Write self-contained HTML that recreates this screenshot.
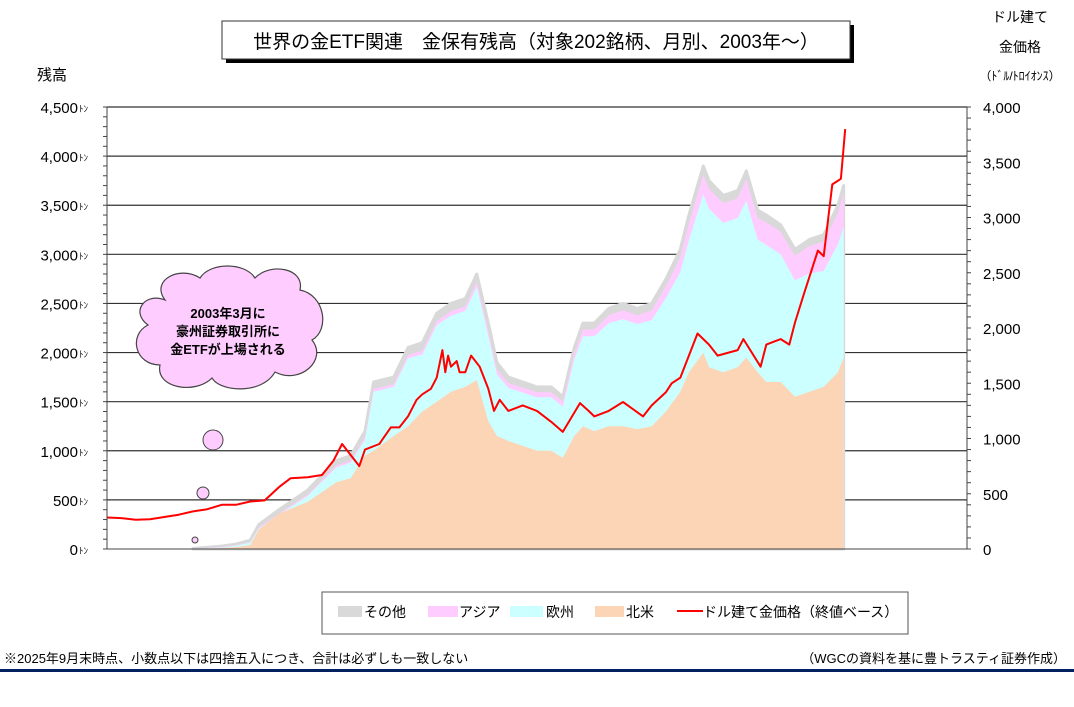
<!DOCTYPE html>
<html><head><meta charset="utf-8">
<style>
body{margin:0;background:#fff;}
#wrap{position:relative;width:1074px;height:707px;overflow:hidden;font-family:"Liberation Sans","Noto Sans CJK JP",sans-serif;}
svg text{font-family:"Liberation Sans","Noto Sans CJK JP",sans-serif;}
</style></head>
<body>
<div id="wrap">
<svg id="chart" width="1074" height="707" xmlns="http://www.w3.org/2000/svg">
  <rect x="226" y="25" width="628" height="38" fill="#000"/>
  <rect x="222" y="21" width="628" height="38" fill="#fff" stroke="#333"/>
  <text x="536" y="48" font-size="19" text-anchor="middle">世界の金ETF関連　金保有残高（対象202銘柄、月別、2003年～）</text>
  <text x="52" y="80" font-size="15" text-anchor="middle">残高</text>
  <text x="1020" y="22" font-size="14" text-anchor="middle">ドル建て</text>
  <text x="1020" y="52" font-size="14" text-anchor="middle">金価格</text>
  <text x="1020" y="80" font-size="12" text-anchor="middle">（ﾄﾞﾙ/ﾄﾛｲｵﾝｽ）</text>
  <g id="grid"></g>
  <g id="areas"></g>
  <g id="lines"></g>
  <g id="axes"></g>
  <g>
    <path d="M165,300 C150,280 180,265 200,278 C210,262 245,262 255,278 C270,262 305,268 300,290 C325,295 330,330 312,340 C328,360 300,385 275,372 C262,395 220,392 212,378 C195,395 155,388 160,365 C135,365 128,335 148,325 C130,312 145,292 165,300 Z" fill="#ffccff" stroke="#444" stroke-width="1.2"/>
    <text x="228" y="318" font-size="13" font-weight="bold" text-anchor="middle">2003年3月に</text>
    <text x="228" y="336" font-size="13" font-weight="bold" text-anchor="middle">豪州証券取引所に</text>
    <text x="228" y="354" font-size="13" font-weight="bold" text-anchor="middle">金ETFが上場される</text>
    <circle cx="213" cy="440" r="10" fill="#ffccff" stroke="#444"/>
    <circle cx="203" cy="493" r="6" fill="#ffccff" stroke="#444"/>
    <circle cx="195" cy="540" r="3" fill="#ffccff" stroke="#444"/>
  </g>
  <g>
    <rect x="322" y="592" width="586" height="42" fill="#fff" stroke="#555"/>
    <rect x="338" y="606" width="24" height="11" fill="#d9d9d9"/>
    <text x="364" y="617" font-size="14">その他</text>
    <rect x="428" y="606" width="30" height="11" fill="#ffccff"/>
    <text x="459" y="617" font-size="14">アジア</text>
    <rect x="510" y="606" width="33" height="11" fill="#ccffff"/>
    <text x="546" y="617" font-size="14">欧州</text>
    <rect x="595" y="606" width="29" height="11" fill="#fbd5b5"/>
    <text x="626" y="617" font-size="14">北米</text>
    <line x1="677" y1="611" x2="703" y2="611" stroke="#ff0000" stroke-width="2"/>
    <text x="703" y="617" font-size="14">ドル建て金価格（終値ベース）</text>
  </g>
  <text x="4" y="663" font-size="13">※2025年9月末時点、小数点以下は四捨五入につき、合計は必ずしも一致しない</text>
  <text x="1066" y="663" font-size="13" text-anchor="end">（WGCの資料を基に豊トラスティ証券作成）</text>
  <rect x="0" y="669" width="1074" height="3" fill="#002060"/>
</svg>
</div>
<script>
const years = [2003.0,2004.0,2004.5,2005.0,2005.3,2006.0,2007.0,2008.0,2008.5,2009.0,2009.3,2010.0,2010.5,2011.0,2011.5,2012.0,2012.5,2012.9,2013.3,2013.6,2014.0,2015.0,2015.5,2015.9,2016.3,2016.6,2017.0,2017.5,2018.0,2018.5,2019.0,2019.5,2020.0,2020.3,2020.8,2021.0,2021.5,2022.0,2022.3,2022.7,2023.0,2023.5,2024.0,2024.5,2025.0,2025.5,2025.7];
const totalHold = [5,30,50,90,250,400,600,900,950,1200,1700,1750,2050,2100,2400,2500,2550,2800,2300,1900,1750,1650,1650,1550,2050,2300,2300,2450,2500,2450,2500,2750,3050,3400,3900,3750,3600,3650,3850,3450,3400,3300,3050,3150,3200,3500,3700];
const northAm = [0,10,20,40,200,360,480,680,720,950,1000,1150,1250,1400,1500,1600,1650,1720,1300,1150,1100,1000,1000,930,1150,1250,1200,1250,1250,1220,1250,1400,1600,1800,2000,1850,1800,1850,1950,1800,1700,1700,1550,1600,1650,1800,1950];
const asia = [3,5,5,5,10,10,15,20,20,25,30,30,35,40,40,45,45,50,50,50,50,50,50,50,60,70,70,80,90,90,100,120,150,170,200,200,200,200,220,220,230,230,250,280,300,320,340];
const other = [2,10,10,20,30,40,45,50,50,60,70,70,75,80,80,80,80,80,80,70,60,55,55,50,60,65,65,70,70,70,70,75,80,85,90,85,80,80,85,80,75,70,65,65,70,75,80];
const priceYears = [2000,2000.5,2001,2001.5,2002,2002.5,2003,2003.5,2004,2004.5,2005,2005.5,2006,2006.4,2007,2007.5,2007.9,2008.2,2008.8,2009,2009.5,2009.9,2010.2,2010.5,2010.8,2011,2011.3,2011.5,2011.7,2011.8,2011.9,2012,2012.2,2012.3,2012.5,2012.7,2013,2013.3,2013.5,2013.7,2014,2014.5,2015,2015.5,2015.9,2016.5,2016.8,2017,2017.5,2018,2018.7,2019,2019.5,2019.7,2020,2020.6,2021,2021.3,2022,2022.2,2022.8,2023,2023.5,2023.8,2024,2024.3,2024.8,2025,2025.3,2025.6,2025.75];
const goldPrice = [285,280,265,270,290,310,340,360,400,400,430,440,560,640,650,670,800,950,750,900,950,1100,1100,1200,1350,1400,1450,1550,1800,1600,1750,1650,1700,1600,1600,1750,1650,1450,1250,1350,1250,1300,1250,1150,1060,1320,1250,1200,1250,1330,1200,1300,1420,1500,1550,1950,1850,1750,1800,1900,1650,1850,1900,1850,2050,2300,2700,2650,3300,3350,3800];
const leftTicks = ["0","500","1,000","1,500","2,000","2,500","3,000","3,500","4,000","4,500"];
const rightTicks = ["0","500","1,000","1,500","2,000","2,500","3,000","3,500","4,000"];
const xTicks = ["2000年","2005年","2010年","2015年","2020年","2025年"];

const X0=107, X1=967, Y0=549, Y1=107;
function xs(yr){return X0+(yr-2000)/30*(X1-X0);}
function yl(v){return Y0-v/4500*(Y0-Y1);}
function yr(v){return Y0-v/4000*(Y0-Y1);}
const NS="http://www.w3.org/2000/svg";
function mk(tag,attrs,parent){const e=document.createElementNS(NS,tag);for(const k in attrs)e.setAttribute(k,attrs[k]);parent.appendChild(e);return e;}

const grid=document.getElementById('grid');
for(let i=1;i<leftTicks.length;i++){
  const l=mk('line',{x1:X0,x2:X1,y1:yl(i*500),y2:yl(i*500),stroke:'#333','stroke-width':1.2},grid);
  
  
}
for(let i=1;i<=6;i++){
  const l=mk('line',{x1:xs(i*5),x2:xs(i*5),y1:Y1,y2:Y0,stroke:'#333','stroke-width':1.2},grid);
  
  
}

const areas=document.getElementById('areas');
const layers=[
  {name:'area-other',color:'#d9d9d9',get:i=>totalHold[i]},
  {name:'area-asia',color:'#ffccff',get:i=>totalHold[i]-other[i]},
  {name:'area-europe',color:'#ccffff',get:i=>totalHold[i]-other[i]-asia[i]},
  {name:'area-north-america',color:'#fbd5b5',get:i=>northAm[i]}
];
layers.forEach((L,k)=>{
  let d='M'+xs(years[0])+','+Y0;
  for(let i=0;i<years.length;i++)d+=' L'+xs(years[i]).toFixed(1)+','+yl(L.get(i)).toFixed(1);
  d+=' L'+xs(years[years.length-1]).toFixed(1)+','+Y0+' Z';
  const attrs={d:d,fill:L.color};
  if(k===0){attrs.stroke='#d9d9d9';attrs['stroke-width']=3;attrs['stroke-linejoin']='round';}
  const p=mk('path',attrs,areas);
  
  
});

const lines=document.getElementById('lines');
let pd='';
for(let i=0;i<priceYears.length;i++)pd+=(i?' L':'M')+xs(priceYears[i]).toFixed(1)+','+yr(goldPrice[i]).toFixed(1);
const pl=mk('path',{d:pd,fill:'none',stroke:'#ff0000','stroke-width':2,'stroke-linejoin':'round'},lines);



const axes=document.getElementById('axes');
const ax=mk('path',{d:`M${X0},${Y1} L${X0},${Y0} L${X1},${Y0} M${X1},${Y1} L${X1},${Y0}`,fill:'none',stroke:'#444','stroke-width':1},axes);


for(let v=0;v<=4500;v+=100){
  const t=mk('line',{x1:X0-4,x2:X0,y1:yl(v),y2:yl(v),stroke:'#444'},axes);
  
  
}
for(let v=0;v<=4000;v+=100){
  const t=mk('line',{x1:X1,x2:X1+4,y1:yr(v),y2:yr(v),stroke:'#444'},axes);
  
  
}
leftTicks.forEach((s,i)=>{
  const t=mk('text',{x:78,y:yl(i*500)+6,'font-size':15,'text-anchor':'end'},axes);
  t.textContent=s;
  
  
  const u=mk('text',{x:79,y:yl(i*500)+5,'font-size':9},axes);
  u.textContent='ﾄﾝ';
  
  
});
rightTicks.forEach((s,i)=>{
  const t=mk('text',{x:983,y:yr(i*500)+6,'font-size':15},axes);
  t.textContent=s;
  
  
});
xTicks.forEach((s,i)=>{
  const t=mk('text',{x:xs(i*5),y:581,'font-size':15,'text-anchor':'middle'},axes);
  t.textContent=s;
  
  
});
</script>
</body></html>
